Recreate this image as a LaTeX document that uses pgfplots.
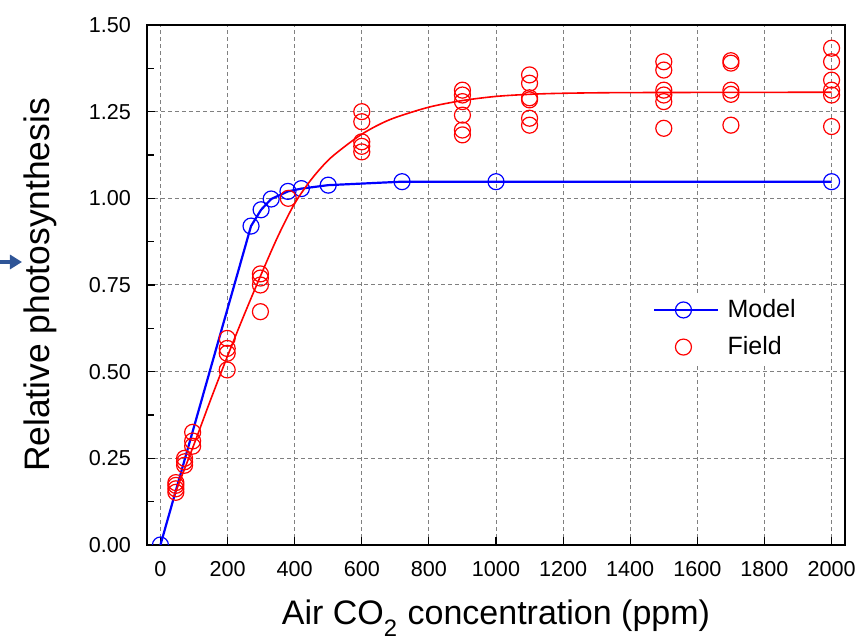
\documentclass[border=0pt]{standalone}
\usepackage{fontspec}
\setmainfont{Liberation Sans}
\usepackage{pgfplots}
\pgfplotsset{compat=1.18}
\usetikzlibrary{arrows.meta}
\definecolor{arrowblue}{RGB}{47,85,151}
\definecolor{gridgray}{RGB}{128,128,128}
\begin{document}
\begin{tikzpicture}
\begin{axis}[
  at={(0,0)}, anchor=south west,
  scale only axis, width=349pt, height=260pt,
  xmin=-40, xmax=2040, ymin=0, ymax=1.5,
  xtick={0,200,...,2000}, ytick={0,0.25,...,1.5},
  minor ytick={0.125,0.375,...,1.375},
  xtick pos=bottom, ytick pos=left,
  tick align=inside,
  major tick length=4pt, minor tick length=3.5pt,
  every tick/.style={black, line width=0.6pt},
  grid=major,
  major grid style={gridgray, dash pattern=on 2pt off 1.5pt, line width=0.5pt},
  axis line style={line width=0.8pt, black},
  ticklabel style={font=\fontsize{10.8}{13}\selectfont},
  yticklabel={\pgfmathprintnumber[fixed,fixed zerofill,precision=2,assume math mode=true]{\tick}},
  xticklabel={\pgfmathprintnumber[fixed,precision=0,1000 sep={},assume math mode=true]{\tick}},
  yticklabel style={xshift=-4.5pt},
  xticklabel style={yshift=-4.5pt},
  xlabel={Air CO\raisebox{-0.2em}{\textsubscript{2}} concentration (ppm)},
  ylabel={Relative photosynthesis},
  xlabel style={at={(axis description cs:0.5,-0.1538)}, anchor=base, font=\fontsize{17}{20}\selectfont},
  ylabel style={at={(axis description cs:-0.139,0.5)}, anchor=base, font=\fontsize{17.7}{21}\selectfont},
  legend style={at={(0.722,0.4163)}, anchor=west, draw=none, fill=white,
    font=\fontsize{12.5}{15}\selectfont, row sep=4pt, nodes={inner sep=2pt},
    cells={anchor=west}, inner sep=1pt},
  legend image code/.code={\draw[mark repeat=2,mark phase=2,#1] plot coordinates {(0pt,0pt) (14.5pt,0pt) (32pt,0pt)};},
  clip marker paths=true,
]
\addplot[blue, line width=1.1pt, mark=o, mark size=4pt,
  mark options={fill=white, line width=0.6pt, solid}]
  coordinates {(0,0) (270,0.92) (300,0.967) (330,0.998) (380,1.02) (420,1.028) (500,1.038) (720,1.048) (1000,1.048) (2000,1.048)};
\addlegendentry{\hspace{2pt}Model}
\addplot[red, only marks, mark=o, mark size=4pt, mark options={line width=0.6pt}]
  coordinates {
  (46,0.152) (46,0.162) (46,0.172) (46,0.18)
  (72,0.23) (72,0.24) (72,0.25)
  (96,0.285) (96,0.30) (96,0.325)
  (199,0.505) (199,0.553) (199,0.567) (199,0.596)
  (298,0.673) (298,0.75) (298,0.77) (298,0.782)
  (381,1.0)
  (600,1.134) (600,1.15) (600,1.163) (600,1.221) (600,1.25)
  (900,1.183) (900,1.197) (900,1.24) (900,1.279) (900,1.298) (900,1.312)
  (1100,1.211) (1100,1.231) (1100,1.284) (1100,1.29) (1100,1.332) (1100,1.356)
  (1500,1.202) (1500,1.279) (1500,1.298) (1500,1.312) (1500,1.37) (1500,1.394)
  (1700,1.211) (1700,1.3) (1700,1.312) (1700,1.39) (1700,1.397)
  (2000,1.207) (2000,1.298) (2000,1.312) (2000,1.341) (2000,1.394) (2000,1.433)
  };
\addlegendentry{\hspace{2pt}Field}
\addplot[red, line width=0.8pt, smooth, forget plot] coordinates {
  (40,0.14) (100,0.29) (150,0.42) (200,0.545) (250,0.665) (300,0.78) (350,0.89)
  (400,0.985) (450,1.055) (500,1.11) (550,1.15) (600,1.185) (650,1.212) (700,1.233)
  (800,1.263) (900,1.282) (1000,1.294) (1100,1.300) (1200,1.303) (1400,1.305) (2000,1.306)};
\end{axis}
\draw[arrowblue, line width=1.6pt, -{Triangle[length=6pt,width=7pt]}] (-73.5pt,141.5pt) -- (-62.5pt,141.5pt);
\pgfresetboundingbox
\path[use as bounding box] (-73.5pt,-47.5pt) rectangle (360pt,272.5pt);
\end{tikzpicture}
\end{document}
